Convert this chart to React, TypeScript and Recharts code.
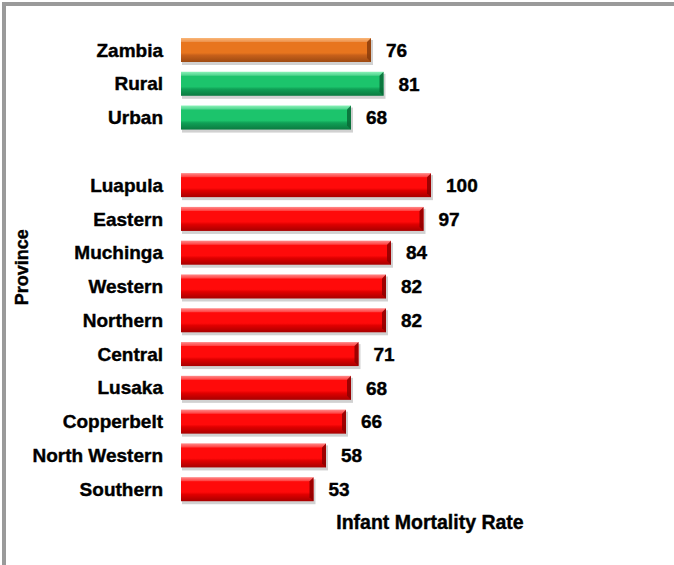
import React from 'react';
import { BarChart, Bar, XAxis, YAxis, Cell, LabelList, Label } from 'recharts';

const categories = ['Zambia', 'Rural', 'Urban', '', 'Luapula', 'Eastern', 'Muchinga', 'Western', 'Northern', 'Central', 'Lusaka', 'Copperbelt', 'North Western', 'Southern'];
const imrValues: (number | null)[] = [76, 81, 68, null, 100, 97, 84, 82, 82, 71, 68, 66, 58, 53];
const groups = ['national', 'residence', 'residence', 'none', 'province', 'province', 'province', 'province', 'province', 'province', 'province', 'province', 'province', 'province'];

const xAxisTitle = 'Infant Mortality Rate';
const yAxisTitle = 'Province';

const data = categories.map((name, i) => ({ name, value: imrValues[i], group: groups[i] }));

const palette: Record<string, { id: string; top: string; mid: string; low: string; bottom: string; edge: string }> = {
  national: { id: 'gOrange', top: '#f9a65a', mid: '#e8751e', low: '#c7601a', bottom: '#9e4a12', edge: '#8a3c0c' },
  residence: { id: 'gGreen', top: '#6ff0a8', mid: '#1cc46c', low: '#10a056', bottom: '#0b7a40', edge: '#086a36' },
  province: { id: 'gRed', top: '#ff7070', mid: '#ff0a0a', low: '#e00000', bottom: '#a80000', edge: '#8c0000' },
  none: { id: 'gRed', top: '#ff7070', mid: '#ff0a0a', low: '#e00000', bottom: '#a80000', edge: '#8c0000' },
};

const FONT = '"Liberation Sans Narrow", "Liberation Sans", Arial, sans-serif';
const textStyle = { fontFamily: FONT, fontWeight: 'bold', fill: '#000', stroke: '#000', strokeWidth: 0.4 } as const;

const BevelBar = (props: any) => {
  const { x, y, width, height, payload } = props;
  if (!width || width <= 0) return null;
  const p = palette[payload.group];
  const e = 4;
  return (
    <g>
      <rect x={x + 1} y={y + 2} width={width + 1} height={height + 1} fill="#7a7a7a" opacity={0.35} />
      <rect x={x} y={y} width={width} height={height} fill={`url(#${p.id})`} />
      <polygon points={`${x + width - e},${y + e} ${x + width},${y} ${x + width},${y + height} ${x + width - e},${y + height - e}`} fill={p.edge} opacity={0.85} />
      <polygon points={`${x},${y} ${x + width},${y} ${x + width - e},${y + e} ${x},${y + e}`} fill="#ffffff" opacity={0.18} />
    </g>
  );
};

export default function App() {
  return (
    <div style={{ position: 'absolute', left: 0, top: 0, width: 674, height: 565, background: '#fff', overflow: 'hidden' }}>
      <div style={{ position: 'absolute', left: 2, top: 2, width: 700, height: 600, borderLeft: '4px solid #9a9a9a', borderTop: '4px solid #9a9a9a', boxSizing: 'border-box' }} />
      <div style={{ position: 'absolute', left: 0, top: 0 }}>
        <BarChart
          width={674}
          height={565}
          data={data}
          layout="vertical"
          margin={{ top: 33, right: 193, bottom: 20, left: 0 }}
          barSize={24}
        >
          <defs>
            {['national', 'residence', 'province'].map((g) => {
              const p = palette[g];
              return (
                <linearGradient key={p.id} id={p.id} x1="0" y1="0" x2="0" y2="1">
                  <stop offset="0%" stopColor={p.top} />
                  <stop offset="18%" stopColor={p.mid} />
                  <stop offset="62%" stopColor={p.mid} />
                  <stop offset="72%" stopColor={p.low} />
                  <stop offset="100%" stopColor={p.bottom} />
                </linearGradient>
              );
            })}
          </defs>
          <XAxis type="number" domain={[0, 120]} axisLine={false} tickLine={false} tick={false} height={39}>
            <Label
              content={(lp: any) => {
                const vb = lp.viewBox;
                return (
                  <text x={vb.x + vb.width * 0.83} y={vb.y + 23} textAnchor="middle" fontSize={19.5} {...textStyle}>
                    {xAxisTitle}
                  </text>
                );
              }}
            />
          </XAxis>
          <YAxis
            type="category"
            dataKey="name"
            width={181}
            axisLine={false}
            tickLine={false}
            tickMargin={12}
            interval={0}
            tick={{ ...textStyle, fontSize: 19 }}
          >
            <Label
              content={(lp: any) => {
                const vb = lp.viewBox;
                const cx = vb.x + 22;
                const cy = vb.y + vb.height * 0.495;
                return (
                  <text x={cx} y={cy} transform={`rotate(-90 ${cx} ${cy})`} textAnchor="middle" dominantBaseline="central" fontSize={18} {...textStyle}>
                    {yAxisTitle}
                  </text>
                );
              }}
            />
          </YAxis>
          <Bar dataKey="value" isAnimationActive={false} shape={BevelBar}>
            {data.map((d, i) => (
              <Cell key={i} fill={palette[d.group].mid} />
            ))}
            <LabelList dataKey="value" position="right" offset={15} style={{ ...textStyle, fontSize: 19 }} />
          </Bar>
        </BarChart>
      </div>
    </div>
  );
}
